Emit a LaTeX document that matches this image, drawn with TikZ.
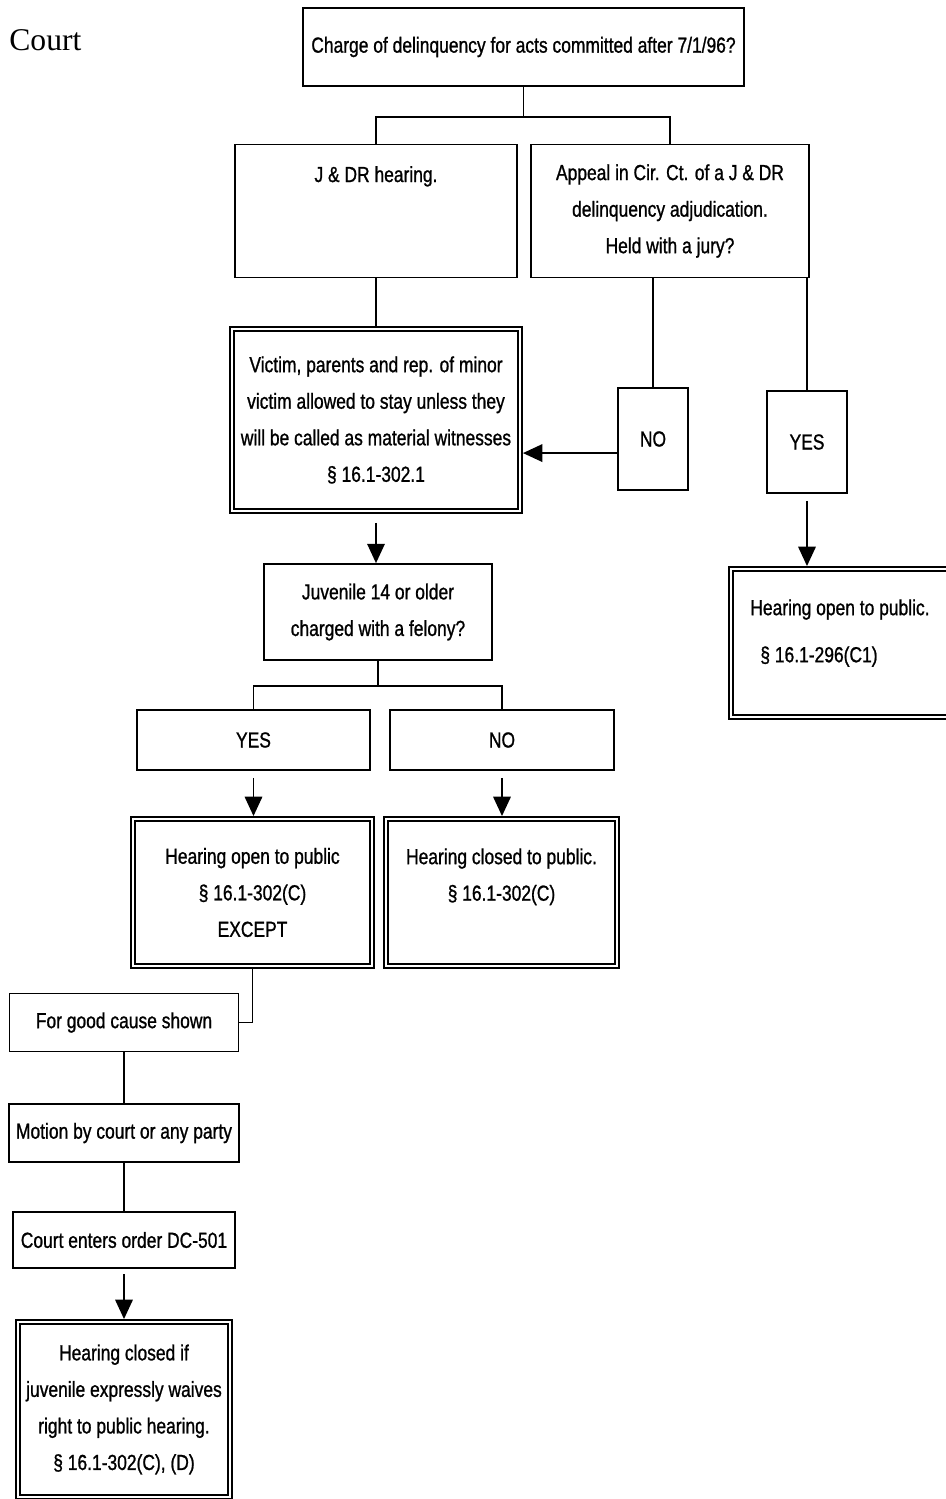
\documentclass[tikz,border=0pt]{standalone}
\usepackage{fontspec}
\setmainfont[FakeStretch=0.8, FakeBold=1]{Liberation Sans}
\newfontfamily\courtfont{Liberation Serif}
\usetikzlibrary{arrows.meta,positioning}

\begin{document}
\begin{tikzpicture}[
    x=0.02cm, y=-0.02cm,
    box/.style={draw, line width=1pt, align=center, inner sep=0pt, font=\fontsize{12.4}{20.8}\selectfont},
    dbox/.style={box, double, double distance=1.4pt, outer sep=1.7pt},
    boxsize/.style 2 args={minimum width=#1*0.02cm, minimum height=#2*0.02cm},
    txt/.style={align=center, inner sep=0pt, font=\fontsize{12.4}{20.8}\selectfont},
    link/.style={line width=0.8pt},
    arrow/.style={-{Triangle[length=11pt, width=10pt]}, line width=0.8pt}
]
\useasboundingbox (0,0) rectangle (946,1499);

\node[anchor=base west, inner sep=0pt, font=\courtfont\fontsize{18}{20}\selectfont] (court) at (9,50) {Court};

\node[box, boxsize={441}{78}] (charge) at (523.5,47) {Charge of delinquency for acts committed after 7/1/96?};
\node[box, boxsize={282}{133}] (jdr) at (376,211) {};
\node[txt, anchor=base] (jdrtext) at (376,182) {J \& DR hearing.};
\node[box, boxsize={278}{133}] (appeal) at (670,211) {Appeal in Cir. Ct. of a J \& DR\\delinquency adjudication.\\Held with a jury?};
\node[dbox, boxsize={288}{182}] (victim) at (376,420) {Victim, parents and rep. of minor\\victim allowed to stay unless they\\will be called as material witnesses\\§ 16.1-302.1};
\node[box, boxsize={70}{102}] (no) at (653,439) {NO};
\node[box, boxsize={80}{102}] (yes) at (807,442) {YES};
\node[dbox, boxsize={250}{148}] (hpub) at (856,643) {};
\node[txt, align=left, anchor=north west] (hpubtext) at (750,599) {Hearing open to public.\\[6pt]\hspace{5.7pt}§ 16.1-296(C1)};

\node[box, boxsize={228}{96}] (juv) at (378,612) {Juvenile 14 or older\\charged with a felony?};
\node[box, boxsize={233}{60}] (yes2) at (253.5,740) {YES};
\node[box, boxsize={224}{60}] (no2) at (502,740) {NO};
\node[dbox, boxsize={239}{147}] (hopen) at (252.5,892.5) {Hearing open to public\\§ 16.1-302(C)\\EXCEPT};
\node[dbox, boxsize={231}{147}] (hclosed) at (501.5,892.5) {};
\node[txt, anchor=north] (hclosedtext) at (501.5,848) {Hearing closed to public.\\§ 16.1-302(C)};

\node[box, boxsize={229}{58}] (cause) at (124,1022.5) {For good cause shown};
\node[box, boxsize={230}{58}] (motion) at (124,1133) {Motion by court or any party};
\node[box, boxsize={222}{56}] (order) at (124,1240) {Court enters order DC-501};
\node[dbox, boxsize={212}{175}] (waive) at (124,1409.5) {Hearing closed if\\juvenile expressly waives\\right to public hearing.\\§ 16.1-302(C), (D)};

\coordinate (split1) at (523.5,117);
\draw[link] (charge) -- (split1);
\draw[link] (jdr.north) |- (split1) -| (appeal.north);
\draw[link] (jdr) -- (victim);
\draw[link] (appeal.south -| no.north) -- (no);
\draw[link] (appeal.south -| yes.north) -- (yes);
\draw[arrow] ([yshift=-8pt]no.west) -- ([yshift=-8pt]no.west -| victim.east);
\draw[arrow, shorten <=4pt] (yes) -- (yes |- hpub.north);
\draw[arrow, shorten <=5pt] (victim) -- (victim |- juv.north);

\coordinate (split2) at (378,686);
\draw[link] (juv) -- (split2);
\draw[link] (yes2.north) |- (split2) -| (no2.north);
\draw[arrow, shorten <=4pt] (yes2) -- (yes2 |- hopen.north);
\draw[arrow, shorten <=4pt] (no2) -- (no2 |- hclosed.north);
\draw[link] (hopen.south) |- (cause.east);
\draw[link] (cause) -- (motion);
\draw[link] (motion) -- (order);
\draw[arrow, shorten <=3pt] (order) -- (order |- waive.north);
\end{tikzpicture}
\end{document}
